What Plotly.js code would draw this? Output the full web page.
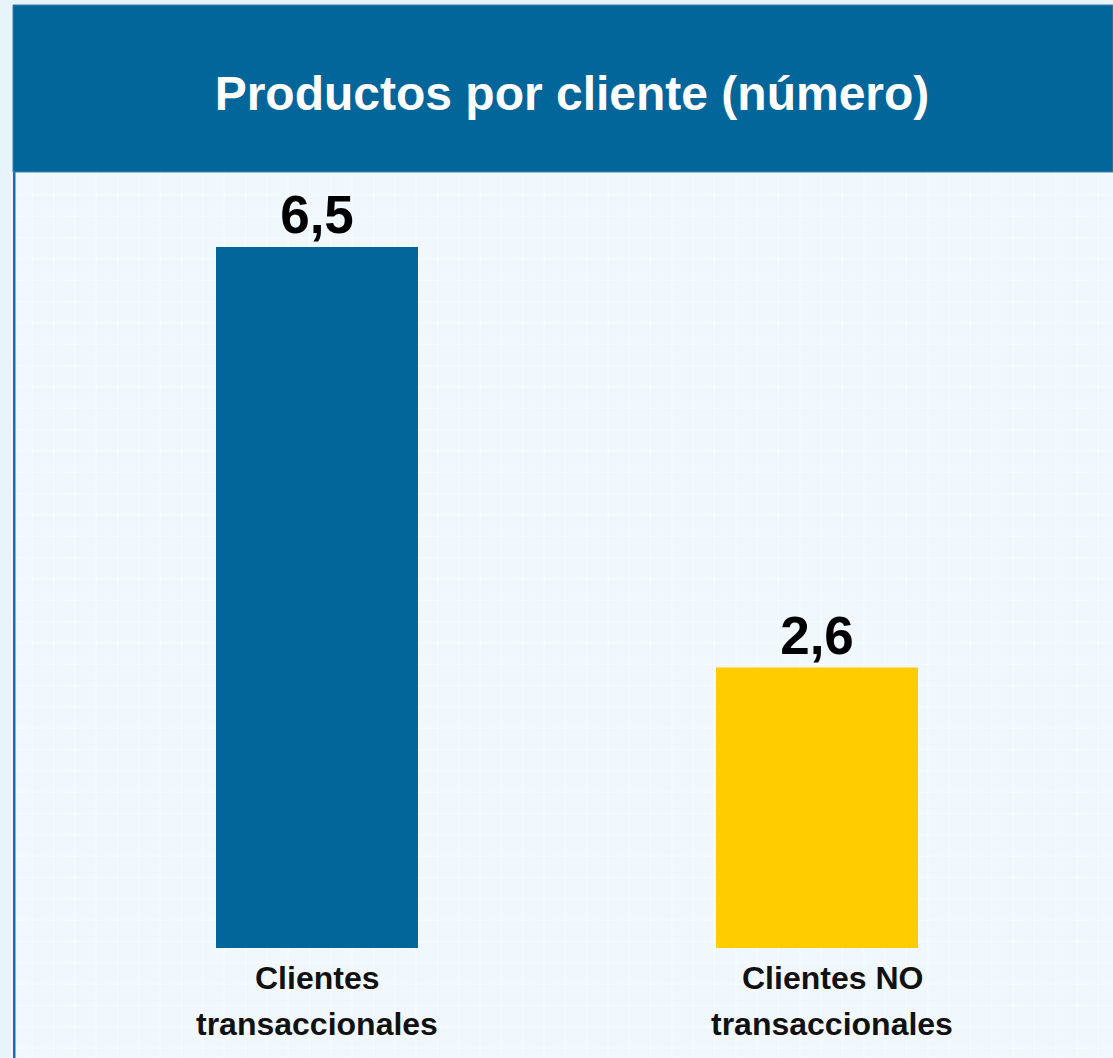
<!DOCTYPE html>
<html>
<head>
<meta charset="utf-8">
<script src="https://cdn.plot.ly/plotly-3.0.1.min.js"></script>
<style>
html,body{margin:0;padding:0;background:#e8f4fc;}
#chart{width:1113px;height:1058px;}
</style>
</head>
<body>
<div id="chart"></div>
<script>
// ---- data ----
const categories = ["Clientes transaccionales", "Clientes NO transaccionales"];
const values = [6.5, 2.6];
const labelLine1 = ["Clientes", "Clientes NO"];
const labelLine2 = ["transaccionales", "transaccionales"];
const barColors = ["#03669b", "#ffcc00"];
const titleText = "Productos por cliente (número)";

// ---- geometry (pixels) ----
const W = 1113, H = 1058;
const L = 67, R = 1067, T = 175, B = 948;
const px = x => (x - L) / (R - L);
const py = y => (B - y) / (B - T);

const font = "Liberation Sans, Arial, sans-serif";

const shapes = [];
// panel background
shapes.push({type:"rect", xref:"paper", yref:"paper", layer:"below",
  x0:px(13), x1:px(1113), y0:py(1058), y1:py(172),
  fillcolor:"#f1f8fd", line:{width:0}});
// faint grid pattern
for (let x = 11; x < 1113; x += 21.32) {
  shapes.push({type:"line", xref:"paper", yref:"paper", layer:"below",
    x0:px(x), x1:px(x), y0:py(1058), y1:py(172),
    line:{color:"rgba(255,255,255,0.6)", width:1}});
}
for (let y = 173.7; y < 1058; y += 21.33) {
  shapes.push({type:"line", xref:"paper", yref:"paper", layer:"below",
    x0:px(15), x1:px(1113), y0:py(y), y1:py(y),
    line:{color:"rgba(255,255,255,0.6)", width:1}});
}
// left border
shapes.push({type:"rect", xref:"paper", yref:"paper", layer:"below",
  x0:px(13), x1:px(15.5), y0:py(1058), y1:py(172),
  fillcolor:"#1b70a6", line:{width:0}});
// header band
shapes.push({type:"rect", xref:"paper", yref:"paper", layer:"below",
  x0:px(13), x1:px(1113), y0:py(172), y1:py(5),
  fillcolor:"#03669b", line:{color:"#3a80b0", width:1}});

const labelShift = [0, 15];
const annotations = [];
categories.forEach((c, i) => {
  annotations.push({x:c, xref:"x", y:py(978), yref:"paper", yanchor:"middle",
    text:labelLine1[i], showarrow:false, xshift:labelShift[i],
    font:{family:font, size:32, color:"#111111", weight:"bold"}});
  annotations.push({x:c, xref:"x", y:py(1024), yref:"paper", yanchor:"middle",
    text:labelLine2[i], showarrow:false, xshift:labelShift[i],
    font:{family:font, size:32, color:"#111111", weight:"bold"}});
});

const trace = {
  type:"bar",
  x:categories,
  y:values,
  marker:{color:barColors, line:{width:0}},
  texttemplate:"<b>%{y:.1f}</b>",
  textposition:"outside",
  cliponaxis:false,
  textfont:{family:font, size:53, color:"#000000"},
  hoverinfo:"skip"
};

const layout = {
  width:W, height:H,
  margin:{l:L, r:W-R, t:T, b:H-B, pad:0},
  paper_bgcolor:"#e8f4fc",
  plot_bgcolor:"rgba(0,0,0,0)",
  separators:",.",
  bargap:0.596,
  showlegend:false,
  title:{text:"<b>"+titleText+"</b>", x:572/W, xanchor:"center",
    y:1-93/H, yanchor:"middle", yref:"container",
    font:{family:font, size:48, color:"#ffffff"}},
  xaxis:{range:[-0.5,1.5], showticklabels:false, showgrid:false, zeroline:false,
    showline:false, ticks:"", fixedrange:true},
  yaxis:{range:[0,(B-T)/107.85], showticklabels:false, showgrid:false, zeroline:false,
    showline:false, ticks:"", fixedrange:true},
  shapes:shapes,
  annotations:annotations
};

Plotly.newPlot("chart", [trace], layout, {displayModeBar:false, staticPlot:true});
</script>
</body>
</html>
